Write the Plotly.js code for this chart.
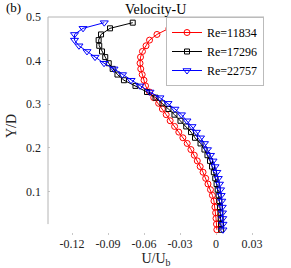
<!DOCTYPE html>
<html>
<head>
<meta charset="utf-8">
<script src="https://cdn.plot.ly/plotly-3.0.1.min.js"></script>
<style>html,body{margin:0;padding:0;background:#fff;}#chart{width:291px;height:268px;}</style>
</head>
<body>
<div id="chart"></div>
<script>
// Y/D positions (shared by the three profiles)
const yD = [0.487,0.474,0.460,0.447,0.434,0.421,0.408,0.394,0.381,0.368,0.355,0.342,0.328,0.315,0.302,0.289,0.276,0.262,0.249,0.236,0.223,0.210,0.196,0.183,0.170,0.157,0.144,0.130,0.117,0.104,0.091,0.078,0.064,0.051,0.038,0.025,0.012];

// U/Ub for Re=11834
const uRe11834 = [-0.0242,-0.0392,-0.0492,-0.0554,-0.0583,-0.0613,-0.0629,-0.0633,-0.0627,-0.0615,-0.0600,-0.0587,-0.0554,-0.0519,-0.0478,-0.0447,-0.0415,-0.0382,-0.0345,-0.0310,-0.0276,-0.0240,-0.0209,-0.0181,-0.0156,-0.0132,-0.0108,-0.0086,-0.0067,-0.0046,-0.0030,-0.0017,-0.0009,-0.0003,0.0000,0.0004,0.0007];

// U/Ub for Re=17296
const uRe17296 = [-0.0694,-0.0883,-0.0958,-0.0978,-0.0973,-0.0950,-0.0923,-0.0894,-0.0861,-0.0821,-0.0767,-0.0671,-0.0575,-0.0504,-0.0446,-0.0396,-0.0346,-0.0296,-0.0248,-0.0208,-0.0175,-0.0129,-0.0096,-0.0071,-0.0050,-0.0033,-0.0018,-0.0006,0.0005,0.0014,0.0022,0.0028,0.0033,0.0037,0.0039,0.0042,0.0043];

// U/Ub for Re=22757
const uRe22757 = [-0.0931,-0.1108,-0.1179,-0.1179,-0.1142,-0.1075,-0.1008,-0.0933,-0.0850,-0.0779,-0.0708,-0.0633,-0.0550,-0.0467,-0.0400,-0.0342,-0.0288,-0.0242,-0.0200,-0.0163,-0.0129,-0.0096,-0.0071,-0.0046,-0.0025,-0.0008,0.0007,0.0019,0.0029,0.0038,0.0043,0.0048,0.0052,0.0054,0.0056,0.0058,0.0058];

const seriesNames = ['Re=11834','Re=17296','Re=22757'];
const xTickVals = [-0.12,-0.09,-0.06,-0.03,0,0.03];
const xTickText = ['-0.12','-0.09','-0.06','-0.03','0','0.03'];
const yTickVals = [0.1,0.2,0.3,0.4,0.5];
const yTickText = ['0.1','0.2','0.3','0.4','0.5'];

const serif = 'Liberation Serif, Times New Roman, serif';

const traces = [
  {x: uRe11834, y: yD, name: seriesNames[0], type: 'scatter', mode: 'lines+markers',
   line: {color: '#ff0000', width: 1},
   marker: {symbol: 'circle-open', size: 6, color: '#ff0000', line: {width: 1}}},
  {x: uRe17296, y: yD, name: seriesNames[1], type: 'scatter', mode: 'lines+markers',
   line: {color: '#000000', width: 1},
   marker: {symbol: 'square-open', size: 5, color: '#000000', line: {width: 1}}},
  {x: uRe22757, y: yD, name: seriesNames[2], type: 'scatter', mode: 'lines+markers',
   line: {color: '#0000ff', width: 1},
   marker: {symbol: 'triangle-down-open', size: 7, color: '#0000ff', line: {width: 1}}}
];

const layout = {
  width: 291, height: 268,
  margin: {l: 48, r: 27, t: 17, b: 33, pad: 0},
  paper_bgcolor: '#fff', plot_bgcolor: '#fff',
  font: {family: serif, size: 12, color: '#000'},
  title: {text: 'Velocity-U', font: {family: serif, size: 14, color: '#000'}, x: 0.535, xanchor: 'center', y: 0.965, yanchor: 'middle'},
  showlegend: true,
  legend: {x: 1, xanchor: 'right', y: 1, yanchor: 'top', bgcolor: '#fff', bordercolor: '#bbbbbb', borderwidth: 1,
           font: {family: serif, size: 12, color: '#000'}, itemwidth: 30, tracegroupgap: 0},
  xaxis: {range: [-0.14, 0.04], tickvals: xTickVals, ticktext: xTickText, showgrid: false, zeroline: false,
          showline: false, ticks: 'inside', ticklen: 2, tickcolor: '#c8c8c8', tickfont: {family: serif, size: 12, color: '#222'},
          title: {text: 'U/U<sub>b</sub>', font: {family: serif, size: 14, color: '#222'}, standoff: 2}},
  yaxis: {range: [0, 0.5], tickvals: yTickVals, ticktext: yTickText, showgrid: false, zeroline: false,
          showline: false, ticks: 'inside', ticklen: 2, tickcolor: '#c8c8c8', tickfont: {family: serif, size: 12, color: '#222'},
          ticklabelstandoff: 6,
          title: {text: 'Y/D', font: {family: serif, size: 14, color: '#222'}, standoff: 6}},
  shapes: [
    {type: 'line', xref: 'paper', yref: 'y', x0: 0, x1: 0, y0: 0.025, y1: 0.5, line: {color: '#b4b4b4', width: 1}},
    {type: 'line', xref: 'paper', yref: 'paper', x0: 0, x1: 1, y0: 1, y1: 1, line: {color: '#b4b4b4', width: 1}}
  ],
  annotations: [
    {text: '(b)', xref: 'paper', yref: 'paper', x: -0.205, y: 1.045, xanchor: 'left', yanchor: 'middle', showarrow: false,
     font: {family: serif, size: 13, color: '#000'}}
  ]
};

Plotly.newPlot('chart', traces, layout, {displayModeBar: false, staticPlot: true});
</script>
</body>
</html>
